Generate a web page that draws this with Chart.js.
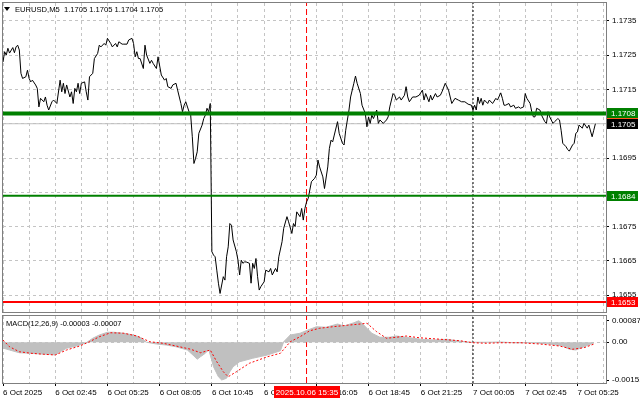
<!DOCTYPE html>
<html>
<head>
<meta charset="utf-8">
<script src="https://cdn.jsdelivr.net/npm/chart.js@4.4.1/dist/chart.umd.min.js"></script>
<style>
  html, body { margin: 0; padding: 0; background: #fff; }
  #wrap { position: relative; width: 640px; height: 401px; overflow: hidden; }
  #mainBox { position: absolute; left: 0; top: 0; width: 640px; height: 314px; }
  #macdBox { position: absolute; left: 0; top: 314px; width: 640px; height: 87px; }
</style>
</head>
<body>
<div id="wrap">
  <div id="mainBox"><canvas id="mainChart"></canvas></div>
  <div id="macdBox"><canvas id="macdChart"></canvas></div>
</div>
<script>
// EURUSD M5, bar index counted from 6 Oct 00:00
const priceBars = [0,1,2,3,4,6,7,8,9,10,11,12,14,15,16,17,18,20,21,22,23,25,26,27,28,30,31,33,35,36,37,38,39,41,42,43,44,45,46,47,48,50,51,52,53,55,56,58,59,60,62,63,64,66,67,69,70,71,73,74,76,77,79,80,81,82,83,84,86,87,88,90,91,92,94,95,97,99,100,101,103,104,106,107,109,110,111,112,114,115,116,117,118,119,120,122,123,124,125,126,127,128,129,130,131,132,133,135,136,137,138,139,140,141,143,144,145,146,147,148,149,151,152,153,154,155,156,157,158,160,161,163,164,165,167,168,169,171,172,174,175,177,178,179,180,182,183,184,185,186,187,189,191,192,193,194,196,197,199,200,201,202,203,205,206,208,209,210,212,213,215,216,217,219,220,222,223,224,225,226,227,229,230,231,233,235,236,237,239,240,241,243,244,246,247,248,249,251,253,255,257,258,259,261,262,263,265,266,268,269,271,273,275,277,279,281,283,285,287,288,289,290,291,292,293,294,295,297,298,300,302,303,305,306,307,308,310,311,313,314,316,317,319,320,321,323,324,325,326,327,329,330,332,333,334,335,337,338,340,341,342,343,345,346,347,349,350,351,352,353,355,356,358,359,361,362,363];
const priceVals = [1.17230,1.17260,1.17250,1.17270,1.17256,1.17272,1.17257,1.17274,1.17279,1.17265,1.17197,1.17182,1.17187,1.17206,1.17182,1.17172,1.17177,1.17163,1.17153,1.17099,1.17124,1.17114,1.17128,1.17104,1.17090,1.17114,1.17119,1.17109,1.17177,1.17143,1.17168,1.17138,1.17163,1.17128,1.17143,1.17109,1.17153,1.17143,1.17168,1.17138,1.17168,1.17172,1.17143,1.17119,1.17187,1.17197,1.17240,1.17255,1.17279,1.17274,1.17284,1.17279,1.17299,1.17284,1.17274,1.17284,1.17274,1.17289,1.17282,1.17282,1.17282,1.17294,1.17299,1.17284,1.17245,1.17260,1.17240,1.17240,1.17211,1.17279,1.17250,1.17226,1.17235,1.17226,1.17211,1.17245,1.17192,1.17177,1.17182,1.17158,1.17153,1.17163,1.17168,1.17148,1.17109,1.17085,1.17104,1.17114,1.17085,1.17075,1.17012,1.16934,1.16949,1.16968,1.17022,1.17046,1.17065,1.17075,1.17095,1.17085,1.17109,1.16677,1.16667,1.16662,1.16623,1.16585,1.16555,1.16604,1.16594,1.16662,1.16691,1.16759,1.16754,1.16711,1.16677,1.16652,1.16609,1.16652,1.16643,1.16647,1.16647,1.16643,1.16585,1.16643,1.16628,1.16657,1.16604,1.16565,1.16575,1.16589,1.16623,1.16618,1.16628,1.16609,1.16628,1.16618,1.16662,1.16706,1.16745,1.16779,1.16764,1.16730,1.16759,1.16750,1.16793,1.16779,1.16803,1.16769,1.16803,1.16822,1.16832,1.16881,1.16891,1.16900,1.16944,1.16924,1.16895,1.16861,1.16924,1.16978,1.17002,1.16997,1.17017,1.17056,1.17022,1.16993,1.16988,1.17031,1.17090,1.17128,1.17168,1.17189,1.17168,1.17138,1.17104,1.17080,1.17041,1.17070,1.17051,1.17075,1.17065,1.17090,1.17051,1.17061,1.17051,1.17061,1.17070,1.17099,1.17138,1.17133,1.17119,1.17128,1.17119,1.17133,1.17158,1.17128,1.17114,1.17128,1.17128,1.17133,1.17148,1.17119,1.17138,1.17114,1.17133,1.17119,1.17138,1.17128,1.17133,1.17143,1.17168,1.17148,1.17109,1.17124,1.17119,1.17114,1.17114,1.17107,1.17104,1.17090,1.17104,1.17090,1.17128,1.17109,1.17124,1.17104,1.17119,1.17109,1.17119,1.17109,1.17124,1.17119,1.17140,1.17124,1.17104,1.17104,1.17109,1.17099,1.17104,1.17095,1.17099,1.17095,1.17099,1.17138,1.17124,1.17109,1.17085,1.17070,1.17070,1.17095,1.17090,1.17075,1.17056,1.17051,1.17085,1.17070,1.17051,1.17056,1.17065,1.17061,1.17031,1.16993,1.16983,1.16975,1.16970,1.16988,1.16993,1.17022,1.17026,1.17046,1.17037,1.17051,1.17037,1.17046,1.17012,1.17031,1.17050];

// MACD(12,26,9) histogram (main) and signal line
const macdBars = [0,4,10,17,23,29,32,35,39,45,51,55,59,64,68,74,80,84,88,94,100,106,113,117,119,121,124,126,127,129,132,134,137,139,141,145,153,162,170,172,176,182,188,192,198,205,209,215,218,220,223,226,231,237,241,247,256,264,272,278,286,296,305,313,325,335,343,347,351,356,362];
const macdVals = [-0.00023,-0.00031,-0.00042,-0.00044,-0.00047,-0.00048,-0.00051,-0.00038,-0.00024,-0.00015,-0.00002,0.00016,0.00029,0.00040,0.00040,0.00036,0.00029,0.00020,0.00000,-0.00007,-0.00011,-0.00018,-0.00031,-0.00055,-0.00068,-0.00058,-0.00044,-0.00028,-0.00051,-0.00098,-0.00138,-0.00151,-0.00144,-0.00118,-0.00098,-0.00078,-0.00064,-0.00051,-0.00034,0.00002,0.00029,0.00036,0.00052,0.00062,0.00060,0.00073,0.00065,0.00078,0.00086,0.00076,0.00056,0.00036,0.00020,0.00020,0.00025,0.00020,0.00012,0.00009,0.00012,0.00006,0.00000,0.00000,0.00001,-0.00002,-0.00002,-0.00007,-0.00015,-0.00028,-0.00031,-0.00018,-0.00003];
const signalBars = [0,4,10,17,25,32,39,47,53,59,66,74,82,90,98,106,115,121,127,131,135,138,143,151,162,170,176,182,188,194,202,211,219,223,229,235,241,247,255,268,280,288,296,305,317,329,341,349,356,363];
const signalVals = [0.00009,-0.00018,-0.00038,-0.00044,-0.00048,-0.00051,-0.00031,-0.00015,0.00002,0.00022,0.00038,0.00036,0.00025,0.00002,-0.00004,-0.00015,-0.00028,-0.00042,-0.00031,-0.00078,-0.00118,-0.00138,-0.00118,-0.00084,-0.00058,-0.00044,0.00002,0.00022,0.00046,0.00056,0.00062,0.00068,0.00073,0.00076,0.00042,0.00016,0.00020,0.00025,0.00018,0.00012,0.00006,-0.00002,-0.00004,-0.00002,-0.00002,-0.00007,-0.00015,-0.00028,-0.00022,-0.00005];

// price levels drawn on the chart
const levelVals = [1.1708, 1.1684, 1.1653];
const levelColors = ['#008000', '#008000', '#ff0000'];
const levelWidths = [4, 2, 2];
const bidPrice = 1.1705;

// axis ticks (1.1705 and 1.1685 are hidden behind the price boxes)
const priceTicks = [1.1735, 1.1725, 1.1715, 1.1705, 1.1695, 1.1685, 1.1675, 1.1665, 1.1655];
const hiddenPriceTicks = [1.1705, 1.1685];
const macdTicks = [0.00087, 0, -0.00151];
const timeTicks = [0, 32, 64, 96, 128, 160, 192, 224, 256, 288, 320, 352];
const timeLabels = ['6 Oct 2025', '6 Oct 02:45', '6 Oct 05:25', '6 Oct 08:05', '6 Oct 10:45', '6 Oct 13:25',
                    '6 Oct 16:05', '6 Oct 18:45', '6 Oct 21:25', '7 Oct 00:05', '7 Oct 02:45', '7 Oct 05:25'];
const cursorBar = 186;       // 2025.10.06 15:35
const cursorLabel = '2025.10.06 15:35';
const daySepBar = 288;

const xMin = 0, xMax = 369.5;
const priceMin = 1.16501, priceMax = 1.17402;
const macdMin = -0.00163, macdMax = 0.00105;

Chart.defaults.font.family = "'Liberation Sans', Arial, sans-serif";
Chart.defaults.font.size = 8;
Chart.defaults.color = '#000';
Chart.defaults.elements.point.radius = 0;
Chart.defaults.elements.line.tension = 0;
Chart.defaults.elements.line.borderWidth = 1;

let gridBars = [];
for (let b = 0; b <= xMax; b += 16) gridBars.push(b);

const toPoints = (xs, ys) => xs.map((x, i) => ({ x: x, y: ys[i] }));
const hLine = v => [{ x: xMin, y: v }, { x: xMax, y: v }];
const vLine = (b, lo, hi) => [{ x: b, y: lo }, { x: b, y: hi }];

const noPad = s => { s.paddingTop = 0; s.paddingBottom = 0; s.paddingLeft = 0; s.paddingRight = 0; };

// grey frame round each plot area
const framePlugin = {
    id: 'frame',
    afterDraw(chart) {
        const a = chart.chartArea;
        const ctx = chart.ctx;
        ctx.save();
        ctx.strokeStyle = '#7f7f7f';
        ctx.lineWidth = 1;
        ctx.strokeRect(Math.floor(a.left) - 0.5, Math.floor(a.top) - 0.5,
            Math.round(a.right - a.left) + 1, Math.round(a.bottom - a.top) + 1);
        ctx.restore();
    }
};

const priceBox = (ctx, y, bg, text) => {
    ctx.fillStyle = bg;
    ctx.fillRect(607, Math.round(y) - 5, 31, 10);
    ctx.fillStyle = '#fff';
    ctx.textBaseline = 'middle';
    ctx.textAlign = 'left';
    ctx.fillText(text, 611, Math.round(y) + 0.5);
};

const mainOverlay = {
    id: 'mainOverlay',
    afterDraw(chart) {
        const ctx = chart.ctx;
        const ys = chart.scales.y;
        ctx.save();
        // title
        ctx.fillStyle = '#000';
        ctx.beginPath();
        ctx.moveTo(4, 7); ctx.lineTo(10, 7); ctx.lineTo(7, 11); ctx.closePath();
        ctx.fill();
        ctx.font = "7.6px 'Liberation Sans', Arial, sans-serif";
        ctx.textBaseline = 'middle';
        ctx.fillText('EURUSD,M5  1.1705 1.1705 1.1704 1.1705', 15, 9.5);
        // right side labels
        ctx.font = "8px 'Liberation Sans', Arial, sans-serif";
        const yAsk = ys.getPixelForValue(levelVals[0]);
        priceBox(ctx, yAsk, '#008000', levelVals[0].toFixed(4));
        ctx.fillStyle = '#ff5a1a';
        ctx.fillRect(607, Math.round(yAsk) + 5, 31, 1);
        priceBox(ctx, ys.getPixelForValue(bidPrice), '#000', bidPrice.toFixed(4));
        priceBox(ctx, ys.getPixelForValue(levelVals[1]), '#008000', levelVals[1].toFixed(4));
        priceBox(ctx, ys.getPixelForValue(levelVals[2]), '#ff0000', levelVals[2].toFixed(4));
        ctx.restore();
    }
};

const macdOverlay = {
    id: 'macdOverlay',
    afterDraw(chart) {
        const ctx = chart.ctx;
        const xs = chart.scales.x;
        ctx.save();
        ctx.font = "7.5px 'Liberation Sans', Arial, sans-serif";
        ctx.fillStyle = '#000';
        ctx.textBaseline = 'middle';
        ctx.fillText('MACD(12,26,9) -0.00003 -0.00007', 6, 10);
        // red cursor time label
        const cx = xs.getPixelForValue(cursorBar);
        ctx.fillStyle = '#ff0000';
        ctx.fillRect(Math.round(cx) - 33, 72, 66, 12);
        ctx.fillStyle = '#fff';
        ctx.font = "8px 'Liberation Sans', Arial, sans-serif";
        ctx.textAlign = 'center';
        ctx.fillText(cursorLabel, Math.round(cx), 78.5);
        ctx.restore();
    }
};

const gridX = {
    type: 'linear', min: xMin, max: xMax,
    afterBuildTicks: s => { s.ticks = gridBars.map(v => ({ value: v })); },
    grid: { color: '#c4c4c4', drawTicks: false },
    border: { display: false, dash: [3, 3] }
};

// main price window
new Chart(document.getElementById('mainChart'), {
    type: 'line',
    data: {
        datasets: [
            ...levelVals.map((v, i) => ({ data: hLine(v), borderColor: levelColors[i], borderWidth: levelWidths[i], order: 0 })),
            { data: toPoints(priceBars, priceVals), borderColor: '#000', borderWidth: 1, order: 1 },
            { data: hLine(bidPrice), borderColor: '#c0c0c0', borderWidth: 1, order: 2 },
            { data: vLine(cursorBar, priceMin, priceMax), borderColor: '#ff0000', borderDash: [6, 3], order: 3 },
            { data: vLine(daySepBar, priceMin, priceMax), borderColor: '#000', borderDash: [2, 2], order: 3 }
        ]
    },
    options: {
        responsive: true,
        maintainAspectRatio: false,
        animation: false,
        devicePixelRatio: 1,
        layout: { padding: { left: 3, top: 3, right: 0, bottom: 2 } },
        plugins: { legend: { display: false }, tooltip: { enabled: false } },
        scales: {
            x: Object.assign({}, gridX, {
                ticks: { display: false },
                afterFit: s => { s.height = 0; noPad(s); }
            }),
            y: {
                position: 'right', min: priceMin, max: priceMax,
                afterBuildTicks: s => { s.ticks = priceTicks.map(v => ({ value: v })); },
                afterFit: s => { s.width = 34; noPad(s); },
                ticks: { callback: v => (hiddenPriceTicks.indexOf(v) >= 0 ? '' : v.toFixed(4)), padding: 3 },
                grid: { color: '#c4c4c4', tickLength: 3, tickColor: '#000' },
                border: { display: false, dash: [3, 3] }
            }
        }
    },
    plugins: [framePlugin, mainOverlay]
});

// MACD window
new Chart(document.getElementById('macdChart'), {
    type: 'line',
    data: {
        datasets: [
            { data: toPoints(signalBars, signalVals), borderColor: '#ff0000', borderDash: [2, 2], order: 0 },
            { data: toPoints(macdBars, macdVals), borderColor: '#c0c0c0', backgroundColor: '#c0c0c0', fill: 'origin', order: 1 },
            { data: vLine(cursorBar, macdMin, macdMax), borderColor: '#ff0000', borderDash: [6, 3], order: 2 },
            { data: vLine(daySepBar, macdMin, macdMax), borderColor: '#000', borderDash: [2, 2], order: 2 }
        ]
    },
    options: {
        responsive: true,
        maintainAspectRatio: false,
        animation: false,
        devicePixelRatio: 1,
        layout: { padding: { left: 3, top: 2, right: 0, bottom: 0 } },
        plugins: { legend: { display: false }, tooltip: { enabled: false } },
        scales: {
            x: Object.assign({}, gridX, {
                ticks: {
                    autoSkip: false, maxRotation: 0, align: 'start', padding: 2,
                    callback: v => (timeTicks.indexOf(v) >= 0 ? timeLabels[timeTicks.indexOf(v)] : '')
                },
                grid: {
                    color: '#c4c4c4', tickLength: 3,
                    tickColor: c => (c.tick && timeTicks.indexOf(c.tick.value) >= 0 ? '#000' : 'rgba(0,0,0,0)')
                },
                afterFit: s => { s.height = 18; noPad(s); }
            }),
            y: {
                position: 'right', min: macdMin, max: macdMax,
                afterBuildTicks: s => { s.ticks = macdTicks.map(v => ({ value: v })); },
                afterFit: s => { s.width = 34; noPad(s); },
                ticks: { callback: v => (v === 0 ? '0.00' : v.toFixed(5)), padding: 3 },
                grid: {
                    color: c => (c.tick && c.tick.value === 0 ? '#c4c4c4' : 'rgba(0,0,0,0)'),
                    tickLength: 3, tickColor: '#000'
                },
                border: { display: false, dash: [3, 3] }
            }
        }
    },
    plugins: [framePlugin, macdOverlay]
});
</script>
</body>
</html>
